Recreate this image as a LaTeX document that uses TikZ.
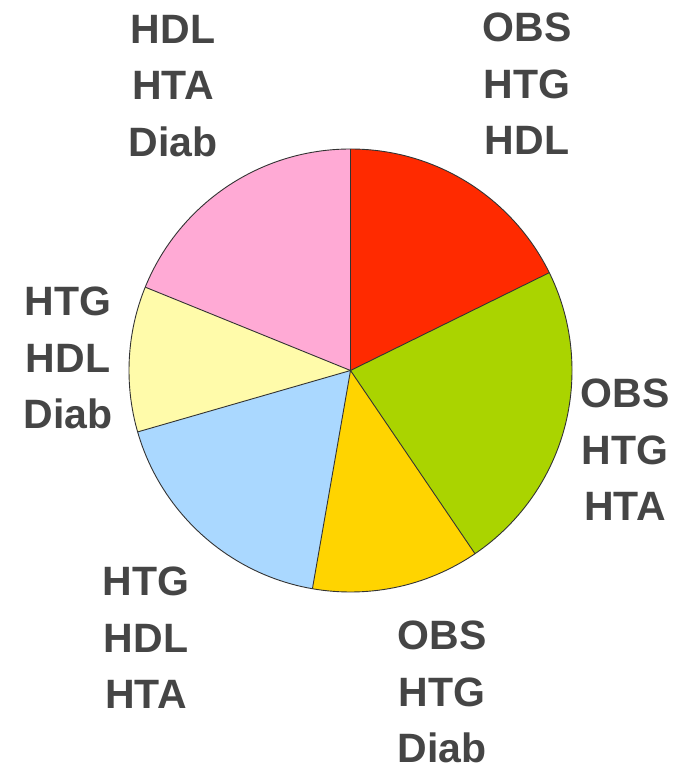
\documentclass[tikz,border=0pt]{standalone}
\usepackage{fontspec}
\setmainfont{Liberation Sans}
\begin{document}
\begin{tikzpicture}[x=1pt,y=1pt,
  slice/.style={draw=black!80,line width=0.9pt,line join=round},
  lbl/.style={font=\fontsize{41}{56.5}\selectfont\bfseries,text=black!73,
              align=center,inner sep=0pt,anchor=center}]
\definecolor{pRed}{HTML}{FF2A00}
\definecolor{pGreen}{HTML}{AAD400}
\definecolor{pYellow}{HTML}{FFD400}
\definecolor{pBlue}{HTML}{AAD8FF}
\definecolor{pCream}{HTML}{FFFBAA}
\definecolor{pPink}{HTML}{FFAAD5}
\useasboundingbox (0,0) rectangle (678,768);
\coordinate (c) at (350.5,397.5);
\def\R{221.5}
% pie slices, clockwise from twelve o'clock
\fill[pRed]    (c) -- ++(90:\R)    arc (90:26.2:\R)    -- cycle;
\fill[pGreen]  (c) -- ++(26.2:\R)  arc (26.2:-55.8:\R) -- cycle;
\fill[pYellow] (c) -- ++(-55.8:\R) arc (-55.8:-99.9:\R) -- cycle;
\fill[pBlue]   (c) -- ++(-99.9:\R) arc (-99.9:-163.9:\R) -- cycle;
\fill[pCream]  (c) -- ++(196.1:\R) arc (196.1:157.9:\R) -- cycle;
\fill[pPink]   (c) -- ++(157.9:\R) arc (157.9:90:\R)    -- cycle;
% outlines
\foreach \a in {90,26.2,-55.8,-99.9,196.1,157.9}
  \draw[slice] (c) -- ++(\a:\R);
\draw[slice] (c) circle (\R);
% labels
\node[lbl] (tl) at (173,682) {HDL\\HTA\\Diab};
\node[lbl] (tr) at (527,684) {OBS\\HTG\\HDL};
\node[lbl] (r)  at (625,318) {OBS\\HTG\\HTA};
\node[lbl] (b)  at (442,76)  {OBS\\HTG\\Diab};
\node[lbl] (bl) at (146,130) {HTG\\HDL\\HTA};
\node[lbl] (l)  at (68,410)  {HTG\\HDL\\Diab};
\end{tikzpicture}
\end{document}
